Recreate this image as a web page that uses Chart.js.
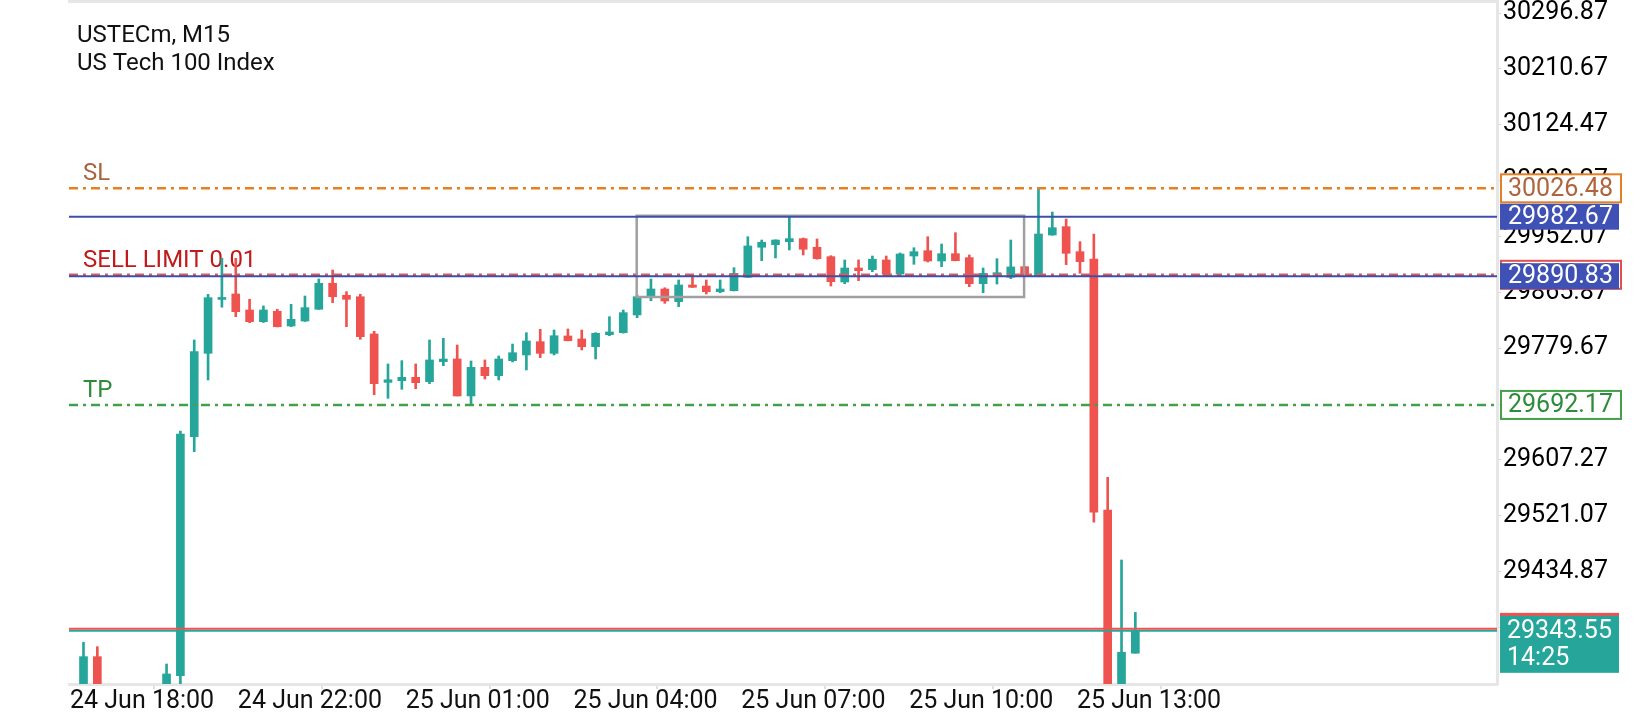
<!DOCTYPE html>
<html>
<head>
<meta charset="utf-8">
<title>USTECm, M15</title>
<script src="https://cdn.jsdelivr.net/npm/chart.js@4.4.1/dist/chart.umd.min.js"></script>
<style>
  html, body { margin: 0; padding: 0; background: #fff; }
  #wrap { position: relative; width: 1640px; height: 720px; }
</style>
</head>
<body>
<div id="wrap"><canvas id="chart"></canvas></div>
<script>
// USTECm M15 candles (index 0 = first candle on the left)
const opens = [
  29255, 29303.7, 29240, 29218, 29230, 29225, 29245, 29274.3, 29643.2, 29771.8,
  29855, 29863.4, 29838.7, 29820.7, 29836.7, 29814, 29821.7, 29839.8, 29879.9, 29861.4,
  29859.2, 29801.7, 29727, 29729.6, 29734.8, 29728.1, 29759, 29763.1, 29706, 29750.2,
  29737.3, 29760.5, 29769.3, 29789.8, 29771.8, 29798.6, 29794, 29782, 29800.6, 29803.7,
  29831, 29859.2, 29871.1, 29851.6, 29877.3, 29875.7, 29867, 29868.5, 29889.2, 29935.5,
  29939.5, 29944.1, 29948.8, 29935.5, 29921, 29881.9, 29903.5, 29901, 29915.9, 29894.2,
  29922, 29930.2, 29914.3, 29925.6, 29919.5, 29879.3, 29892.2, 29889.2, 29905.6, 29891.2,
  29954.4, 29967.3, 29928.7, 29917.4, 29530, 29245, 29309
];
const highs = [
  29325.9, 29319.1, 29252, 29240, 29248, 29255, 29292.4, 29652, 29792.4, 29862.9,
  29918.5, 29918.5, 29855.2, 29845, 29839.8, 29847.5, 29860.3, 29886.5, 29900.4, 29867,
  29863, 29805.8, 29755.4, 29760.5, 29755.4, 29792.4, 29795, 29784.7, 29760, 29761.6,
  29767.7, 29786.2, 29803.7, 29808.9, 29807.8, 29809.4, 29807.8, 29803.7, 29828.4, 29838.7,
  29862, 29886.5, 29873, 29885, 29891.2, 29885, 29885, 29904, 29951.8, 29946.7,
  29947, 29982.7, 29949.8, 29948.3, 29922.5, 29915.9, 29916, 29922, 29922, 29926.7,
  29934.8, 29951.8, 29940.5, 29958, 29923.6, 29903.5, 29917.9, 29946.7, 29906, 30028,
  29989.9, 29979.1, 29944.1, 29956, 29580.5, 29452.9, 29372
];
const lows = [
  29240, 29232, 29205, 29195, 29210, 29215, 29238, 29250, 29620, 29730.7,
  29843, 29828.4, 29819, 29819.5, 29812.5, 29813, 29821, 29839.5, 29850, 29812.9,
  29793.5, 29708, 29702.4, 29716.3, 29717.3, 29725, 29752.8, 29706, 29692, 29732.2,
  29730.7, 29758.5, 29746.1, 29765.1, 29769.3, 29791, 29777, 29763.1, 29799, 29803,
  29826.8, 29853, 29849, 29843.8, 29873.5, 29863.4, 29865.4, 29868, 29889, 29914.8,
  29919, 29931.3, 29923.6, 29917, 29875.7, 29879.3, 29884, 29897.8, 29892.3, 29891.2,
  29909.2, 29912.8, 29905.6, 29914.5, 29874.7, 29865.4, 29878.8, 29887, 29890, 29890,
  29954, 29908.7, 29895.3, 29511.1, 29225, 29220, 29309
];
const closes = [
  29303.7, 29240, 29218, 29230, 29225, 29245, 29277, 29647.3, 29774.4, 29857.7,
  29858, 29836.1, 29820.7, 29838.7, 29812.9, 29824.3, 29842.3, 29879.9, 29859.2, 29855.2,
  29797.5, 29725, 29731, 29734.8, 29726.5, 29761.6, 29763, 29706, 29750.2, 29737.3,
  29763.1, 29772.8, 29790.9, 29771.8, 29799, 29791.3, 29782, 29802.7, 29804.8, 29834.6,
  29859.2, 29871.1, 29852.6, 29877.3, 29873.7, 29867, 29871.1, 29895.3, 29937.5, 29943.2,
  29946.7, 29948.8, 29932.4, 29917.9, 29882.4, 29903.5, 29899.4, 29917, 29893.8, 29925.1,
  29928.7, 29914.3, 29925.6, 29914.8, 29879.3, 29895.3, 29896.3, 29905.1, 29891.2, 29956,
  29965.7, 29926.2, 29913.3, 29526.5, 29240, 29310.5, 29343.55
];

const xTickLabels = [
  '24 Jun 18:00', '24 Jun 22:00', '25 Jun 01:00', '25 Jun 04:00',
  '25 Jun 07:00', '25 Jun 10:00', '25 Jun 13:00'
];
const yTickValues = [
  30296.87, 30210.67, 30124.47, 30038.27, 29952.07, 29865.87,
  29779.67, 29693.47, 29607.27, 29521.07, 29434.87, 29348.67
];

// levels on the chart
const slLevel = 30026.48;
const hLines = [29982.67, 29890.83];
const sellLimitLevel = 29893.0;
const tpLevel = 29692.17;
const bidPrice = 29343.55;
const askPrice = 29346.6;
const barTimeLeft = '14:25';

// the grey rectangle (candle index / price)
const rectFrom = 39.97, rectTo = 67.96, rectTop = 29984.0, rectBottom = 29858.8;

// visible window
const xMin = -1.048, xMax = 102.13;
const yMin = 29261.5, yMax = 30317.1;
const firstTickAt = -0.975, tickEvery = 12.126;

const UP = '#26a69a';
const DOWN = '#ef5350';
const FONT = 'Roboto';

const candleColor = ctx => closes[ctx.dataIndex] >= opens[ctx.dataIndex] ? UP : DOWN;

function hLine(level, color, width, dash, order) {
  return {
    type: 'line',
    data: [{ x: xMin, y: level }, { x: xMax, y: level }],
    borderColor: color,
    borderWidth: width,
    borderDash: dash,
    pointRadius: 0,
    order: order
  };
}

// chart frame + title
const framePlugin = {
  id: 'frame',
  beforeDraw(chart) {
    const { ctx, chartArea } = chart;
    ctx.save();
    ctx.fillStyle = '#fff';
    ctx.fillRect(0, 0, chart.width, chart.height);
    ctx.strokeStyle = '#e6e6e6';
    ctx.lineWidth = 3;
    ctx.beginPath();
    ctx.moveTo(chartArea.left - 1, chartArea.top + 1.5);
    ctx.lineTo(chartArea.right, chartArea.top + 1.5);
    ctx.stroke();
    ctx.restore();
  },
  beforeDatasetsDraw(chart) {
    const { ctx } = chart;
    const y = chart.scales.y;
    ctx.save();
    ctx.font = '24px ' + FONT;
    ctx.textAlign = 'left';
    ctx.textBaseline = 'alphabetic';
    ctx.fillStyle = '#111';
    ctx.fillText('USTECm, M15', 77, 42);
    ctx.fillText('US Tech 100 Index', 77, 70);
    ctx.fillStyle = '#a8643e';
    ctx.fillText('SL', 83, y.getPixelForValue(slLevel) - 8);
    ctx.fillStyle = '#c01a1a';
    ctx.fillText('SELL LIMIT 0.01', 83, y.getPixelForValue(sellLimitLevel) - 8);
    ctx.fillStyle = '#2e8b3a';
    ctx.fillText('TP', 83, y.getPixelForValue(tpLevel) - 8);
    ctx.restore();
  }
};

// price tags on the right axis
function tag(ctx, x, y, text, fill, stroke, textColor) {
  const w = stroke ? 121 : 119, h = stroke ? 28 : 26;
  ctx.fillStyle = fill;
  ctx.fillRect(x, y - h / 2, w, h);
  if (stroke) {
    ctx.strokeStyle = stroke;
    ctx.lineWidth = 2;
    ctx.strokeRect(x + 1, y - h / 2, w - 1, h);
  }
  ctx.fillStyle = textColor;
  ctx.fillText(text, x + 8, y + 1);
}

const tagPlugin = {
  id: 'tags',
  afterDraw(chart) {
    const { ctx } = chart;
    const y = chart.scales.y;
    const x0 = chart.chartArea.right + 3;
    ctx.save();
    ctx.font = '25px ' + FONT;
    ctx.textAlign = 'left';
    ctx.textBaseline = 'middle';
    tag(ctx, x0, y.getPixelForValue(slLevel), slLevel.toFixed(2), '#fff', '#e67e22', '#b0643c');
    tag(ctx, x0, y.getPixelForValue(sellLimitLevel), sellLimitLevel.toFixed(2), '#fff', '#e05050', '#c01a1a');
    hLines.forEach(v => tag(ctx, x0, y.getPixelForValue(v), v.toFixed(2), '#3f51b5', null, '#fff'));
    tag(ctx, x0, y.getPixelForValue(tpLevel), tpLevel.toFixed(2), '#fff', '#43a047', '#2e8b3a');

    // ask / bid tags, two lines of text on the bid one
    const ya = y.getPixelForValue(askPrice);
    const yb = y.getPixelForValue(bidPrice);
    ctx.fillStyle = DOWN;
    ctx.fillRect(x0, ya - 16, 119, 57);
    ctx.fillStyle = UP;
    ctx.fillRect(x0, yb - 15, 119, 57);
    ctx.fillStyle = '#fff';
    ctx.fillText(bidPrice.toFixed(2), x0 + 7, yb + 1);
    ctx.fillText(barTimeLeft, x0 + 7, yb + 28);
    ctx.restore();
  }
};

const idx = opens.map((_, i) => i);

new Chart(document.getElementById('chart'), {
  type: 'bar',
  data: {
    datasets: [
      hLine(askPrice, DOWN, 2, [], 0),
      hLine(bidPrice, UP, 2, [], 1),
      hLine(slLevel, '#e67e22', 2.5, [9, 5, 3, 5], 2),
      hLine(tpLevel, '#43a047', 2.5, [9, 5, 3, 5], 3),
      hLine(hLines[0], '#3f4fa8', 2, [], 4),
      hLine(hLines[1], '#3f4fa8', 2, [], 5),
      hLine(sellLimitLevel, '#e05a5a', 2.5, [9, 5, 3, 5], 6),
      {
        type: 'line',
        data: [
          { x: rectFrom, y: rectTop }, { x: rectTo, y: rectTop },
          { x: rectTo, y: rectBottom }, { x: rectFrom, y: rectBottom },
          { x: rectFrom, y: rectTop }
        ],
        borderColor: '#a0a0a0',
        borderWidth: 2.5,
        borderJoinStyle: 'miter',
        borderCapStyle: 'square',
        pointRadius: 0,
        order: 7
      },
      {
        label: 'body',
        data: idx.map(i => ({ x: i, y: [opens[i], closes[i]] })),
        backgroundColor: candleColor,
        barThickness: 8,
        minBarLength: 2,
        grouped: false,
        order: 8
      },
      {
        label: 'wick',
        data: idx.map(i => ({ x: i, y: [lows[i], highs[i]] })),
        backgroundColor: candleColor,
        barThickness: 2,
        grouped: false,
        order: 9
      }
    ]
  },
  options: {
    responsive: true,
    maintainAspectRatio: false,
    animation: false,
    devicePixelRatio: 1,
    layout: { padding: { left: 69, top: 0, right: 0, bottom: 0 } },
    plugins: { legend: { display: false }, tooltip: { enabled: false } },
    events: [],
    scales: {
      x: {
        type: 'linear',
        min: xMin,
        max: xMax,
        offset: false,
        grid: { drawOnChartArea: false, drawTicks: true, tickLength: 5, color: '#e0e0e0', lineWidth: 2 },
        border: { display: true, color: '#e6e6e6', width: 3 },
        ticks: {
          autoSkip: false,
          maxRotation: 0,
          minRotation: 0,
          align: 'start',
          padding: 0,
          color: '#111',
          font: { family: FONT, size: 25, lineHeight: 1 },
          callback: (v, i) => xTickLabels[i]
        },
        afterBuildTicks(scale) {
          scale.ticks = xTickLabels.map((_, k) => ({ value: firstTickAt + k * tickEvery }));
        },
        afterFit(scale) {
          scale.height = 36;
          scale.paddingLeft = 0;
          scale.paddingRight = 0;
        }
      },
      y: {
        type: 'linear',
        position: 'right',
        min: yMin,
        max: yMax,
        grid: { drawOnChartArea: false, drawTicks: true, tickLength: 4, color: '#d8d8d8' },
        border: { display: true, color: '#e6e6e6', width: 3 },
        ticks: {
          autoSkip: false,
          padding: 2,
          color: '#000',
          font: { family: FONT, size: 25 },
          callback: v => v.toFixed(2)
        },
        afterBuildTicks(scale) {
          scale.ticks = yTickValues.map(v => ({ value: v }));
        },
        afterFit(scale) {
          scale.width = 143;
          scale.paddingTop = 0;
          scale.paddingBottom = 0;
        }
      }
    }
  },
  plugins: [framePlugin, tagPlugin]
});
</script>
</body>
</html>
